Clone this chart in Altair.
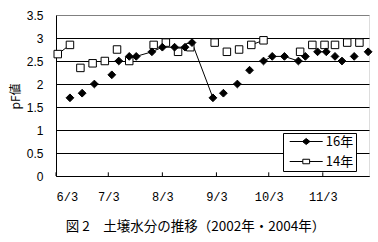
import altair as alt
import pandas as pd

# ---- data ----
dates_16 = ["2004-06-11", "2004-06-18", "2004-06-25", "2004-07-05", "2004-07-09",
            "2004-07-15", "2004-07-19", "2004-07-28", "2004-08-03", "2004-08-10",
            "2004-08-16", "2004-08-20", "2004-09-01", "2004-09-07", "2004-09-15",
            "2004-09-22", "2004-09-30", "2004-10-05", "2004-10-12", "2004-10-20",
            "2004-10-24", "2004-10-31", "2004-11-05", "2004-11-10", "2004-11-14",
            "2004-11-21", "2004-11-29"]
vals_16 = [1.7, 1.8, 2.0, 2.2, 2.5, 2.6, 2.6, 2.7, 2.8, 2.8, 2.8, 2.9, 1.7, 1.8, 2.0,
           2.3, 2.5, 2.6, 2.6, 2.5, 2.6, 2.7, 2.7, 2.6, 2.5, 2.6, 2.7]
seg_16 = [1, 2, 3, 4, 5, 6, 6, 6, 6, 6, 6, 6, 6, 7, 8, 9, 10, 10, 10, 10, 11, 12, 12,
          13, 14, 15, 16]

dates_14 = ["2004-06-04", "2004-06-11", "2004-06-17", "2004-06-24", "2004-07-01",
            "2004-07-08", "2004-07-15", "2004-07-29", "2004-08-05", "2004-08-12",
            "2004-08-19", "2004-09-02", "2004-09-09", "2004-09-16", "2004-09-23",
            "2004-09-30", "2004-10-21", "2004-10-28", "2004-11-04", "2004-11-10",
            "2004-11-17", "2004-11-24"]
vals_14 = [2.65, 2.85, 2.35, 2.45, 2.5, 2.75, 2.5, 2.85, 2.9, 2.7, 2.8, 2.9, 2.7,
           2.75, 2.85, 2.95, 2.7, 2.85, 2.85, 2.85, 2.9, 2.9]
seg_14 = [1, 1, 2, 3, 4, 5, 6, 7, 8, 9, 10, 11, 12, 13, 14, 14, 15, 16, 17, 18, 19, 20]

series_names = ["16年", "14年"]
tick_dates = ["2004-06-03", "2004-07-03", "2004-08-03", "2004-09-03", "2004-10-03",
              "2004-11-03"]
y_ticks = [0, 0.5, 1, 1.5, 2, 2.5, 3, 3.5]
title_text = "図 2　土壌水分の推移（2002年・2004年）"

rows = []
for d, v, s in zip(dates_16, vals_16, seg_16):
    rows.append({"date": d, "pF": v, "series": series_names[0], "seg": f"a{s}"})
for d, v, s in zip(dates_14, vals_14, seg_14):
    rows.append({"date": d, "pF": v, "series": series_names[1], "seg": f"b{s}"})
df = pd.DataFrame(rows)
ticks_df = pd.DataFrame({"date": tick_dates})


def dt(s, hours=0):
    y, m, d = (int(p) for p in s.split("-"))
    return alt.DateTime(year=y, month=m, date=d, hours=hours, utc=True)


x_scale = alt.Scale(type="utc", domain=[dt("2004-06-03"), dt("2004-11-29", 12)])
x_axis = alt.Axis(
    values=[dt(t) for t in tick_dates], format="%-m/%-d", ticks=False, grid=False,
    domainColor="black", labelFont="Liberation Mono", labelFontSize=12,
    labelColor="black", labelPadding=15, title=None,
)
y_scale = alt.Scale(domain=[0, 3.5], nice=False, zero=True)
y_axis = alt.Axis(
    values=y_ticks, format="~g", ticks=False, grid=True, labelOverlap=False,
    gridColor={"condition": {"test": "datum.value >= 3.5", "value": "#808080"},
               "value": "black"},
    domainColor="black", labelFont="Liberation Sans", labelFontSize=12,
    labelColor="black", labelPadding=13,
    title="pF値", titleFont="Noto Sans CJK JP", titleFontSize=12,
    titleFontWeight="normal", titleColor="black", titleAngle=270,
    titleX=-41, titleY=81, titleAlign="center", titleBaseline="middle",
)

X = alt.X("date:T", scale=x_scale, axis=x_axis)
Y = alt.Y("pF:Q", scale=y_scale, axis=y_axis)

base = alt.Chart(df)

lines = base.mark_line(color="black", strokeWidth=1).encode(
    x=X, y=Y, detail="seg:N", order="date:T")

squares = base.transform_filter(alt.datum.series == series_names[1]).mark_point(
    shape="square", filled=True, fill="white", stroke="black", strokeWidth=1,
    size=56, opacity=1).encode(x=X, y=Y)

diamonds = base.transform_filter(alt.datum.series == series_names[0]).mark_point(
    shape="diamond", filled=True, fill="black", stroke="black", strokeWidth=1,
    size=60, opacity=1).encode(x=X, y=Y)

path16 = "M-3.3,0H3.3M0,-0.6L0.75,0L0,0.6L-0.75,0Z"
path14 = "M-3.3,0H-0.68M0.68,0H3.3M-0.68,-0.45H0.68V0.45H-0.68Z"

leg = alt.Legend(
    title=None, orient="none", legendX=227, legendY=118, padding=2,
    fillColor="white", strokeColor="black",
    symbolSize=100, symbolStrokeWidth=1, symbolStrokeColor="black",
    symbolOpacity=1, symbolOffset=14.7, labelOffset=13,
    labelFont="Noto Sans CJK JP", labelFontSize=13, labelColor="black",
    rowPadding=6, labelExpr="datum.label + '\u2002'",
)

legend_layer = base.mark_point(opacity=0, filled=True, strokeWidth=1).encode(
    x=X, y=Y,
    shape=alt.Shape("series:N", scale=alt.Scale(domain=series_names,
                                                range=[path16, path14]), legend=leg),
    fill=alt.Fill("series:N", scale=alt.Scale(domain=series_names,
                                              range=["black", "white"]), legend=leg),
    stroke=alt.Stroke("series:N", scale=alt.Scale(domain=series_names,
                                                  range=["black", "black"]), legend=leg),
)

tick_marks = alt.Chart(ticks_df).mark_rule(color="black", strokeWidth=1).encode(
    x=X, y=alt.Y(datum=0, scale=y_scale, axis=y_axis), y2=alt.datum(0.08))

chart = alt.layer(tick_marks, lines, squares, diamonds, legend_layer).properties(
    width=313, height=161,
    autosize=alt.AutoSizeParams(type="none"),
    padding={"left": 56, "top": 15, "right": 9, "bottom": 66},
    title=alt.TitleParams(title_text, orient="bottom", anchor="middle",
                          frame="group", dx=-17, offset=18,
                          font="Noto Sans CJK JP", fontSize=13.5,
                          fontWeight="normal", color="black"),
).configure_view(stroke="#808080", strokeWidth=1).configure(background="white")

chart.save("out.html", embed_options={"renderer": "svg", "actions": False})
